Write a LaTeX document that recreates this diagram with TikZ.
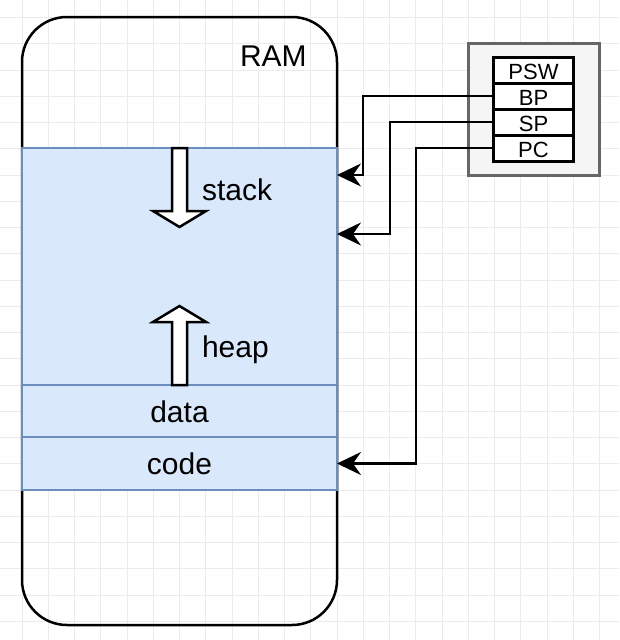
\documentclass[tikz,border=0pt]{standalone}
\usepackage{fontspec}
\setmainfont{Liberation Sans}
\usetikzlibrary{arrows.meta,positioning}
\definecolor{MemFill}{HTML}{DAE8FC}
\definecolor{MemLine}{HTML}{6C8EBF}
\definecolor{RegFill}{HTML}{F5F5F5}
\definecolor{RegLine}{HTML}{666666}
\definecolor{GridLine}{HTML}{EBEBEB}
\begin{document}
\begin{tikzpicture}[x=1pt,y=-1pt,every node/.style={inner sep=0pt,outer sep=0pt},
ram/.style={draw,line width=2.5pt,rounded corners=45pt,minimum width=315pt,minimum height=608pt,anchor=north west},
seg/.style={draw=MemLine,fill=MemFill,line width=2.5pt,minimum width=315pt,font=\fontsize{30}{36}\selectfont,text height=22pt,text depth=0pt},
regbox/.style={draw=RegLine,fill=RegFill,line width=3pt,minimum width=131pt,minimum height=132pt,anchor=north west},
reg/.style={draw,fill=white,line width=3pt,minimum width=80pt,minimum height=26pt,font=\fontsize{22}{26}\selectfont,text height=19pt,text depth=0pt},
label/.style={font=\fontsize{30}{36}\selectfont,anchor=base west},
blockarrow/.style={draw,fill=white,line width=2.5pt,line join=miter},
arrow/.style={-{Stealth[length=24pt,width=23pt,inset=8pt]},line width=2.5pt}]
\useasboundingbox (0,0) rectangle (619,640);
\clip (0,0) rectangle (619,640);
% grid
\foreach \g in {0,...,24} {
  \draw[GridLine,line width=1pt] ({22+26.25*(\g-1)},0) -- ++(0,640);
  \draw[GridLine,line width=1pt] (0,{17.5+26.25*(\g-1)}) -- ++(619,0);
}
% memory
\node[ram] (ram) at (22,17) {};
\node[label] (ramlabel) at (240,66) {RAM};
\node[seg,minimum height=237pt,anchor=north west] (heapstack) at (22,148) {};
\node[seg,minimum height=52pt,below=0pt of heapstack] (data) {data};
\node[seg,minimum height=53pt,below=0pt of data] (code) {code};
\draw[blockarrow] (172,148) -- (172,211) -- (153,211) -- (179.5,227) -- (206,211) -- (187,211) -- (187,148) -- cycle;
\draw[blockarrow] (172,385) -- (172,322) -- (153,322) -- (179.5,306) -- (206,322) -- (187,322) -- (187,385) -- cycle;
\node[label] (stacklabel) at (202,200) {stack};
\node[label] (heaplabel) at (202,357) {heap};
% registers
\node[regbox] (regs) at (468,43) {};
\node[reg,below=14pt of regs.north] (psw) {PSW};
\node[reg,below=0pt of psw] (bp) {BP};
\node[reg,below=0pt of bp] (sp) {SP};
\node[reg,below=0pt of sp] (pc) {PC};
\coordinate (bpin) at ([yshift=-27pt]heapstack.north east);
\coordinate (spin) at ([yshift=-86pt]heapstack.north east);
\coordinate (pcin) at (code.east);
\draw[arrow] (bp.west) -| ([xshift=26pt]bpin) -- (bpin);
\draw[arrow] (sp.west) -| ([xshift=53pt]spin) -- (spin);
\draw[arrow] (pc.west) -| ([xshift=79pt]pcin) -- (pcin);
\end{tikzpicture}
\end{document}
